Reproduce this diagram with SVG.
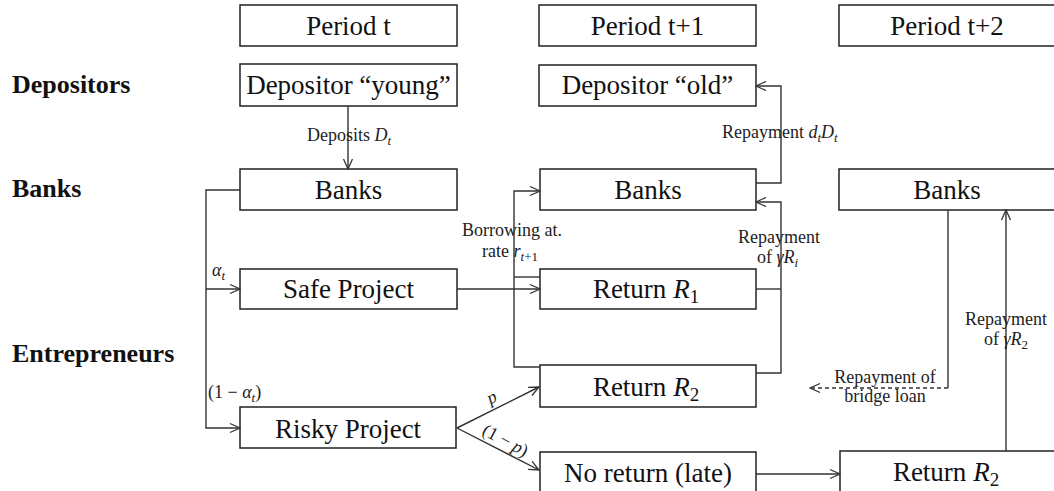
<svg xmlns="http://www.w3.org/2000/svg" width="1054" height="491" viewBox="0 0 1054 491">
<style>
.box{fill:#fff;stroke:#222;stroke-width:1.5}
.lbl{font-family:"Liberation Serif","DejaVu Serif",serif;font-size:27px;fill:#111;text-anchor:middle}
.row{font-family:"Liberation Serif","DejaVu Serif",serif;font-size:26px;font-weight:bold;fill:#111}
.sm{font-family:"Liberation Serif","DejaVu Serif",serif;font-size:18px;fill:#222}
.mi{font-style:italic}
.ln{fill:none;stroke:#333;stroke-width:1.4}
.dash{stroke-dasharray:4,3}
</style>
<defs>
<marker id="arr" markerWidth="12" markerHeight="12" refX="11" refY="6" orient="auto" markerUnits="userSpaceOnUse">
<path d="M1,1.5 L11,6 L1,10.5" fill="none" stroke="#333" stroke-width="1.3"/>
</marker>
</defs>
<rect width="1054" height="491" fill="#fff"/>

<g id="row-labels">
<text class="row" x="12" y="93">Depositors</text>
<text class="row" x="12" y="197">Banks</text>
<text class="row" x="12" y="362">Entrepreneurs</text>
</g>

<g id="period-t"><rect class="box" x="240" y="5" width="217" height="41"/><text class="lbl" x="348.5" y="35">Period t</text></g>
<g id="period-t1"><rect class="box" x="539" y="5" width="217" height="41"/><text class="lbl" x="647.5" y="35">Period t+1</text></g>
<g id="period-t2"><rect class="box" x="839" y="5" width="220" height="41"/><text class="lbl" x="947" y="35">Period t+2</text></g>

<g id="dep-young"><rect class="box" x="240" y="64" width="217" height="42"/><text class="lbl" x="348.5" y="93.5">Depositor “young”</text></g>
<g id="dep-old"><rect class="box" x="539" y="65" width="217" height="41"/><text class="lbl" x="647.5" y="94">Depositor “old”</text></g>

<g id="banks-t"><rect class="box" x="240" y="169" width="217" height="41"/><text class="lbl" x="348.5" y="198.5">Banks</text></g>
<g id="banks-t1"><rect class="box" x="540" y="169" width="216" height="41"/><text class="lbl" x="648" y="198.5">Banks</text></g>
<g id="banks-t2"><rect class="box" x="839" y="169" width="220" height="41"/><text class="lbl" x="947" y="198.5">Banks</text></g>

<g id="safe"><rect class="box" x="240" y="269" width="217" height="40"/><text class="lbl" x="348.5" y="298">Safe Project</text></g>
<g id="return-r1"><rect class="box" x="540" y="269" width="216" height="40"/><text class="lbl" x="646" y="298">Return <tspan class="mi">R</tspan><tspan font-size="19" dy="5">1</tspan></text></g>

<g id="return-r2"><rect class="box" x="540" y="365" width="216" height="42"/><text class="lbl" x="646" y="395.5">Return <tspan class="mi">R</tspan><tspan font-size="19" dy="5">2</tspan></text></g>
<g id="risky"><rect class="box" x="240" y="407" width="216" height="41"/><text class="lbl" x="348" y="437.5">Risky Project</text></g>

<g id="no-return"><rect class="box" x="540" y="452" width="216" height="45"/><text class="lbl" x="648" y="482">No return (late)</text></g>
<g id="return-r2-t2"><rect class="box" x="840" y="451" width="220" height="45"/><text class="lbl" x="946" y="481">Return <tspan class="mi">R</tspan><tspan font-size="19" dy="5">2</tspan></text></g>

<g id="connectors">
<path class="ln" d="M348,106 V169" marker-end="url(#arr)"/>
<path class="ln" d="M240,190 H206 V428 H240" marker-end="url(#arr)"/>
<path class="ln" d="M206,289 H240" marker-end="url(#arr)"/>
<path class="ln" d="M457,289 H540" marker-end="url(#arr)"/>
<path class="ln" d="M540,367 H514 V191 H540" marker-end="url(#arr)"/>
<path class="ln" d="M514,277 H540"/>
<path class="ln" d="M756,183 H781 V86 H756" marker-end="url(#arr)"/>
<path class="ln" d="M756,373 H781 V202 H756" marker-end="url(#arr)"/>
<path class="ln" d="M756,289 H781"/>
<path class="ln" d="M948,210 V388"/>
<path class="ln dash" d="M948,388 H810" marker-end="url(#arr)"/>
<path class="ln" d="M1006,451 V210" marker-end="url(#arr)"/>
<path class="ln" d="M457,428 L539,387" marker-end="url(#arr)"/>
<path class="ln" d="M457,428 L539,470" marker-end="url(#arr)"/>
<path class="ln" d="M756,474 H840" marker-end="url(#arr)"/>
</g>

<g id="edge-labels">
<text class="sm" x="307" y="141">Deposits <tspan class="mi">D</tspan><tspan class="mi" font-size="13" dy="4">t</tspan></text>
<text class="sm" x="722" y="138">Repayment <tspan class="mi">d</tspan><tspan class="mi" font-size="13" dy="4">t</tspan><tspan class="mi" dy="-4">D</tspan><tspan class="mi" font-size="13" dy="4">t</tspan></text>
<text class="sm" x="462" y="236">Borrowing at.</text>
<text class="sm" x="482" y="257">rate <tspan class="mi">r</tspan><tspan font-size="13" dy="4"><tspan class="mi">t</tspan>+1</tspan></text>
<text class="sm" x="738" y="243">Repayment</text>
<text class="sm" x="757" y="263">of <tspan class="mi">γR</tspan><tspan class="mi" font-size="13" dy="4">i</tspan></text>
<text class="sm" x="212" y="276"><tspan class="mi">α</tspan><tspan class="mi" font-size="13" dy="4">t</tspan></text>
<text class="sm" x="208" y="398">(1 − <tspan class="mi">α</tspan><tspan class="mi" font-size="13" dy="4">t</tspan><tspan dy="-4">)</tspan></text>
<text class="sm mi" x="492" y="403" text-anchor="middle" transform="rotate(-27 492 398)">p</text>
<text class="sm" x="505" y="446" text-anchor="middle" transform="rotate(28 505 441)">(1 − <tspan class="mi">p</tspan>)</text>
<text class="sm" x="885" y="383" text-anchor="middle">Repayment of</text>
<text class="sm" x="885" y="402" text-anchor="middle">bridge loan</text>
<text class="sm" x="1006" y="325" text-anchor="middle">Repayment</text>
<text class="sm" x="984" y="345">of <tspan class="mi">γR</tspan><tspan font-size="13" dy="4">2</tspan></text>
</g>
</svg>
